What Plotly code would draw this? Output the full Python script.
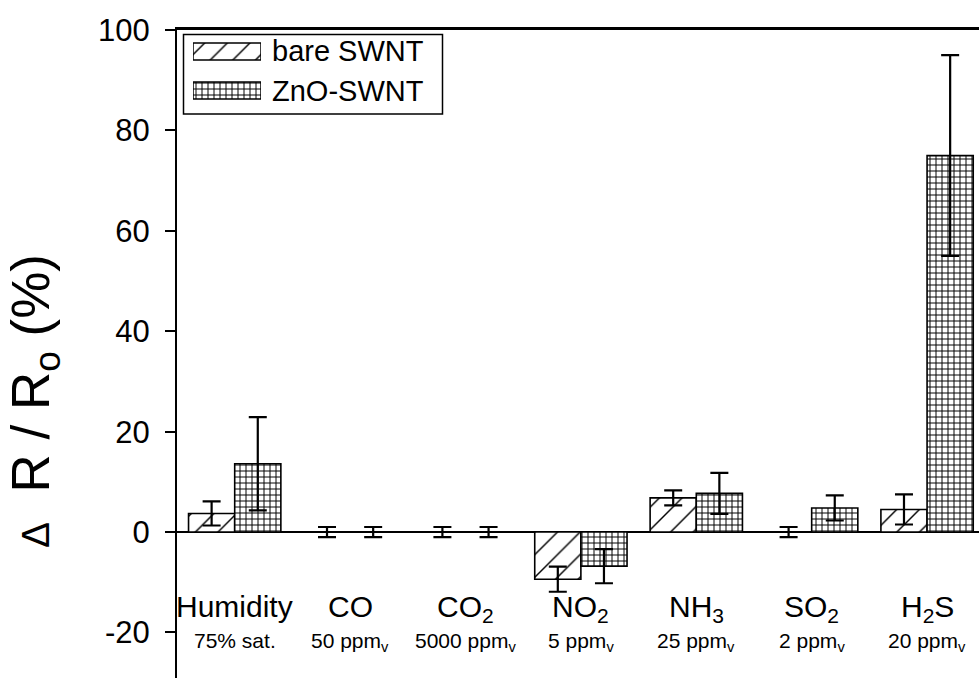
import plotly.graph_objects as go

# ---- data -------------------------------------------------------------
gases = ["Humidity", "CO", "CO<sub>2</sub>", "NO<sub>2</sub>",
         "NH<sub>3</sub>", "SO<sub>2</sub>", "H<sub>2</sub>S"]
conditions = ["75% sat.", "50 ppm<sub>v</sub>", "5000 ppm<sub>v</sub>",
              "5 ppm<sub>v</sub>", "25 ppm<sub>v</sub>", "2 ppm<sub>v</sub>",
              "20 ppm<sub>v</sub>"]
bare_mean = [3.7, 0.0, 0.0, -9.4, 6.8, 0.0, 4.5]
bare_err = [2.4, 1.0, 1.0, 2.5, 1.5, 1.0, 3.0]
zno_mean = [13.6, 0.0, 0.0, -6.8, 7.7, 4.8, 75.0]
zno_err = [9.3, 1.0, 1.0, 3.4, 4.1, 2.5, 20.0]
series_names = ["bare SWNT", "ZnO-SWNT"]
y_ticks = [-20, 0, 20, 40, 60, 80, 100]
y_tick_text = ["-20", "0", "20", "40", "60", "80", "100"]

# ---- page geometry (pixels) ---------------------------------------------
W, H = 979, 678
ML, MR, MT, MB = 177, 0, 30, 0
PW, PH = W - ML - MR, H - MT - MB
FONT = "Liberation Sans, Arial, Helvetica, sans-serif"


def px(x):
    return (x - ML) / PW


def py(y):
    return (H - MB - y) / PH


positions = list(range(len(gases)))

hatch_bare = dict(shape="/", size=16, solidity=0.09, fgcolor="black", fgopacity=1,
                  bgcolor="white", fillmode="overlay")
hatch_zno = dict(shape="+", size=6, solidity=0.3, fgcolor="black", fgopacity=1,
                 bgcolor="white", fillmode="overlay")
outline = dict(color="black", width=1.6)
err_style = dict(type="data", visible=True, color="black", thickness=2.2, width=9)

fig = go.Figure()
fig.add_trace(go.Bar(
    x=positions, y=bare_mean, name=series_names[0],
    marker=dict(color="white", line=outline, pattern=hatch_bare),
    error_y=dict(array=bare_err, **err_style),
))
fig.add_trace(go.Bar(
    x=positions, y=zno_mean, name=series_names[1],
    marker=dict(color="white", line=outline, pattern=hatch_zno),
    error_y=dict(array=zno_err, **err_style),
))

# legend swatches on a small inset axis pair
sw_h = 17 / 39
for row, (name, pat) in enumerate(zip(series_names, [hatch_bare, hatch_zno])):
    fig.add_trace(go.Bar(
        x=[1], y=[1 - row], base=[0], orientation="h", width=sw_h,
        marker=dict(color="white", line=dict(color="black", width=1.5), pattern=pat),
        xaxis="x2", yaxis="y2", showlegend=False, hoverinfo="skip",
    ))

annotations = []
for i, (g, c) in enumerate(zip(gases, conditions)):
    annotations.append(dict(
        x=i, y=py(588), xref="x", yref="paper", text=g, showarrow=False,
        xanchor="center", yanchor="top", font=dict(size=30, family=FONT, color="black"),
    ))
    annotations.append(dict(
        x=i, y=py(627), xref="x", yref="paper", text=c, showarrow=False,
        xanchor="center", yanchor="top", font=dict(size=21, family=FONT, color="black"),
    ))

for row, name in enumerate(series_names):
    annotations.append(dict(
        x=px(270), y=py(51.5 + 39 * row), xref="paper", yref="paper", text=name,
        showarrow=False, xanchor="left", yanchor="middle",
        font=dict(size=29, family=FONT, color="black"),
    ))

annotations.append(dict(
    x=px(34), y=py(401), xref="paper", yref="paper",
    text="<span style='font-size:39px'>Δ</span>\u00a0\u00a0R\u00a0/\u00a0R<sub>o</sub>\u00a0(%)",
    textangle=-90, showarrow=False,
    xanchor="center", yanchor="middle",
    font=dict(size=53, family=FONT, color="black"),
))

fig.update_layout(
    width=W, height=H,
    margin=dict(l=ML, r=MR, t=MT, b=MB, pad=0),
    paper_bgcolor="white", plot_bgcolor="white",
    barmode="group", bargap=0.2, bargroupgap=0,
    showlegend=False,
    font=dict(family=FONT, color="black"),
    xaxis=dict(range=[-0.5, 6.45], side="top", showline=True, linecolor="black",
               linewidth=2.5, showticklabels=False, ticks="", showgrid=False,
               zeroline=False),
    yaxis=dict(range=[-29.08, 100.02], tickvals=y_ticks, ticktext=y_tick_text,
               ticks="outside", ticklen=10, ticklabelstandoff=9,
               tickwidth=2, tickcolor="black", showline=True, linecolor="black",
               linewidth=2, showgrid=False, zeroline=True, zerolinecolor="black",
               zerolinewidth=2.2, tickfont=dict(size=31, family=FONT, color="black")),
    xaxis2=dict(domain=[px(193), px(261)], range=[0, 1], visible=False,
                anchor="y2", fixedrange=True),
    yaxis2=dict(domain=[py(110), py(32)], range=[-0.5, 1.5], visible=False,
                anchor="x2", fixedrange=True),
    shapes=[dict(type="rect", xref="paper", yref="paper",
                 x0=px(183.5), x1=px(442.5), y0=py(114), y1=py(34.5),
                 line=dict(color="black", width=1.5), fillcolor="rgba(0,0,0,0)")],
    annotations=annotations,
)

fig.write_html("out.html")
